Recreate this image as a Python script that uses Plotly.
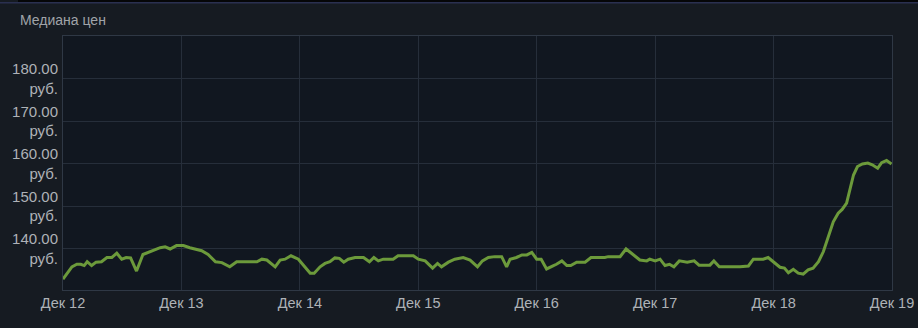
import pandas as pd
import plotly.graph_objects as go

# Hours after 12 Dec 00:00 and median price (руб.)
hours = [0.0, 1.8, 2.8, 3.6, 4.3, 4.9, 5.8, 6.7, 7.8, 8.9, 9.9, 10.9, 11.9, 12.8, 13.7, 14.9,
         16.2, 17.3, 18.4, 19.7, 20.7, 21.7, 23.0, 24.4, 25.7, 27.1,
         28.1, 29.4, 30.9, 32.2, 33.8, 35.2, 36.9, 39.3, 40.3, 41.3, 43.0, 44.0, 45.0, 46.2,
         47.7, 49.0, 50.1, 50.9, 52.1, 53.1, 54.1, 55.1,
         56.0, 56.9, 57.8, 59.2, 60.9, 62.1, 63.0, 63.9, 64.9, 66.9, 67.9, 71.0, 72.0, 73.4,
         74.0, 74.9, 75.9, 76.7, 78.1, 79.4, 81.1, 82.5,
         84.0, 85.0, 86.2, 87.5, 88.9, 89.9, 90.6, 91.9, 93.0, 94.0, 95.0, 96.0, 96.9, 98.0,
         99.4, 100.0, 101.1, 102.1, 102.9, 104.1, 105.8, 107.0, 109.8,
         110.5, 112.9, 114.1, 115.2, 116.9, 118.3, 118.9, 120.0, 121.0, 122.0, 122.9, 123.8,
         124.9, 126.5, 127.9, 128.9, 131.1, 131.9, 133.0, 137.2,
         138.9, 139.9, 141.9, 142.9, 144.3, 145.3, 146.2, 147.0, 148.0, 149.0, 150.0, 151.0,
         152.0, 153.1, 154.1, 155.1, 156.1, 157.1, 157.9, 158.8, 159.5, 160.2, 161.0, 162.0,
         163.1, 164.0, 165.1, 165.9, 166.9, 167.9]
prices = [132.9, 135.8, 136.4, 136.4, 136.1, 137.0, 136.1, 136.9, 137.0, 138.0, 138.0, 139.0, 137.6, 138.0, 137.9, 134.8,
          138.7, 139.2, 139.8, 140.3, 140.5, 140.0, 140.8, 140.8, 140.3, 139.8,
          139.6, 138.7, 137.0, 136.8, 135.8, 137.0, 137.0, 137.0, 137.6, 137.4, 135.8, 137.4, 137.6, 138.4,
          137.6, 135.8, 134.3, 134.3, 135.8, 136.6, 137.0, 137.9,
          137.8, 136.9, 137.6, 138.0, 138.0, 137.0, 138.0, 137.2, 137.6, 137.6, 138.4, 138.4, 137.6, 137.2,
          136.6, 135.5, 136.6, 135.8, 136.9, 137.6, 138.0, 137.4,
          135.8, 137.2, 138.0, 138.2, 138.2, 135.8, 137.6, 138.0, 138.6, 138.6, 139.2, 137.6, 137.6, 135.3,
          136.1, 136.4, 137.2, 136.1, 136.1, 136.9, 136.9, 138.0, 138.0,
          138.2, 138.2, 140.0, 139.0, 137.4, 137.2, 137.6, 137.2, 137.6, 136.1, 136.4, 135.8,
          137.2, 136.9, 137.2, 136.2, 136.2, 137.2, 135.8, 135.8,
          136.0, 137.6, 137.6, 138.0, 136.6, 135.7, 135.5, 134.4, 135.2, 134.3, 134.1, 135.1,
          135.5, 137.0, 139.4, 142.9, 146.4, 148.4, 149.3, 150.8, 153.9, 157.4, 159.4, 160.0,
          160.2, 159.8, 159.0, 160.3, 160.8, 160.0]

y_ticks = [140, 150, 160, 170, 180]
y_tick_text = ["140.00<br>руб.", "150.00<br>руб.", "160.00<br>руб.", "170.00<br>руб.", "180.00<br>руб."]
x_days = ["2023-12-12", "2023-12-13", "2023-12-14", "2023-12-15",
          "2023-12-16", "2023-12-17", "2023-12-18", "2023-12-19"]
x_tick_text = ["Дек 12", "Дек 13", "Дек 14", "Дек 15", "Дек 16", "Дек 17", "Дек 18", "Дек 19"]
title_text = "Медиана цен"

start = pd.Timestamp("2023-12-12")
times = [start + pd.Timedelta(hours=h) for h in hours]

W, H = 918, 328
L, R, T, B = 63, 26, 36, 38

fig = go.Figure()
fig.add_trace(go.Scatter(x=times, y=prices, mode="lines",
                         line=dict(color="#6c9a3b", width=3),
                         hoverinfo="skip", showlegend=False))

text_col = "#aeb2b7"
grid_col = "#262e3a"
border_col = "#2f3845"

fig.update_layout(
    width=W, height=H,
    margin=dict(l=L, r=R, t=T, b=B),
    paper_bgcolor="#161b22",
    plot_bgcolor="#111720",
    font=dict(family="Liberation Sans, Arial, sans-serif", color=text_col, size=14),
    xaxis=dict(type="date", range=[x_days[0], x_days[-1]],
               tickvals=x_days, ticktext=x_tick_text, automargin=False,
               showgrid=True, gridcolor=grid_col, gridwidth=1,
               showline=True, linecolor=border_col, linewidth=1, mirror=True,
               zeroline=False, ticks="", tickfont=dict(size=14.5, color=text_col)),
    yaxis=dict(range=[130.35, 190.1], tickvals=y_ticks, ticktext=y_tick_text,
               automargin=False,
               showgrid=True, gridcolor=grid_col, gridwidth=1,
               showline=True, linecolor=border_col, linewidth=1, mirror=True,
               zeroline=False, ticks="", ticklabelstandoff=1,
               tickfont=dict(size=15, color=text_col)),
    annotations=[dict(text=title_text, xref="paper", yref="paper",
                      x=(18 - L) / (W - L - R), y=(H - B - 20) / (H - T - B),
                      xanchor="left", yanchor="middle", showarrow=False,
                      font=dict(size=14, color="#a0a4a9"))],
    shapes=[
        dict(type="rect", xref="paper", yref="paper",
             x0=(18 - L) / (W - L - R), x1=(W - L) / (W - L - R),
             y0=(H - B - 2) / (H - T - B), y1=(H - B) / (H - T - B),
             fillcolor="#050608", line=dict(width=0), layer="above"),
        dict(type="rect", xref="paper", yref="paper",
             x0=-L / (W - L - R), x1=(W - L) / (W - L - R),
             y0=(H - B - 3.5) / (H - T - B), y1=(H - B - 2) / (H - T - B),
             fillcolor="#2a3050", line=dict(width=0), layer="above"),
    ],
)

fig.write_html("out.html")
